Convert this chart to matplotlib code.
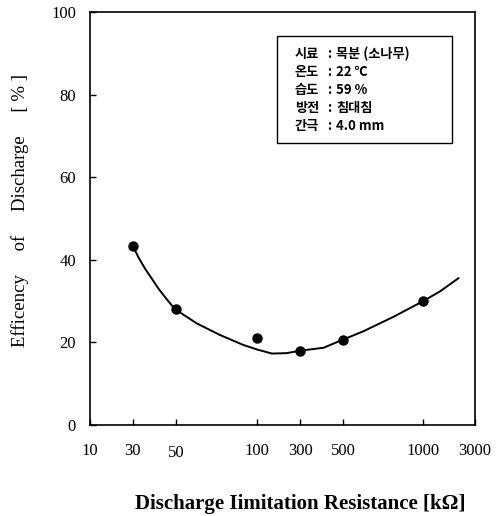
import matplotlib
matplotlib.use("Agg")
import matplotlib.pyplot as plt
from matplotlib.patches import Rectangle
from matplotlib.transforms import ScaledTranslation

plt.rcParams.update({
    "font.family": "serif",
    "font.serif": ["Liberation Serif", "DejaVu Serif"],
})

# x axis of the original is hand-drawn: labels are not on a true log scale
X_LABELS = ["10", "30", "50", "100", "300", "500", "1000", "3000"]
X_TICK_POS = [0, 1, 2, 3.9, 4.9, 5.9, 7.77, 8.97]

# measured points (resistance in kOhm -> efficiency %)
RESISTANCE = ["30", "50", "100", "300", "500", "1000"]
EFFICIENCY = [43.3, 28.0, 21.0, 17.9, 20.6, 30.0]

# fitted curve (axis position, efficiency %)
CURVE_POS = [1.0, 1.126, 1.282, 1.438, 1.592, 1.748, 1.904, 2.02, 2.49, 3.03,
             3.57, 3.89, 4.24, 4.58, 4.9, 5.44, 5.9, 6.37, 7.07, 7.77, 8.16, 8.59]
CURVE_EFF = [43.3, 40.6, 37.8, 35.4, 33.0, 30.9, 28.9, 27.7, 24.5, 21.7,
             19.3, 18.2, 17.2, 17.3, 17.9, 18.6, 20.6, 22.6, 26.1, 29.95, 32.3, 35.5]

Y_TICKS = [0, 20, 40, 60, 80, 100]

CONDITIONS = [
    ("시료", "목분 (소나무)"),
    ("온도", "22 ℃"),
    ("습도", "59 %"),
    ("방전", "침대침"),
    ("간극", "4.0 mm"),
]

fig = plt.figure(figsize=(5.01, 5.16), dpi=100)
ax = fig.add_axes([0.1796, 0.1773, 0.7684, 0.7994])

pos_of = dict(zip(X_LABELS, X_TICK_POS))
ax.plot(CURVE_POS, CURVE_EFF, color="black", lw=1.4,
        solid_capstyle="round", solid_joinstyle="round")
ax.plot([pos_of[r] for r in RESISTANCE], EFFICIENCY, "o", color="black", ms=6.5)

ax.set_xlim(X_TICK_POS[0], X_TICK_POS[-1])
ax.set_ylim(0, 100)
ax.set_xticks(X_TICK_POS)
ax.set_xticklabels(X_LABELS, fontsize=12)
ax.set_yticks(Y_TICKS)
ax.set_yticklabels([str(v) for v in Y_TICKS], fontsize=12)
ax.tick_params(direction="in", length=4, width=1)
ax.tick_params(axis="x", pad=13)
ax.tick_params(axis="y", pad=10)
for s in ax.spines.values():
    s.set_linewidth(1.2)

# the "50" label sits a bit lower in the original
lbl = ax.get_xticklabels()[2]
lbl.set_transform(lbl.get_transform() + ScaledTranslation(0, -2 / 72, fig.dpi_scale_trans))

fig.text(0.041, 0.593, "Efficency     of     Discharge     [ % ]", fontsize=13.5,
         rotation=90, ha="center", va="center")
fig.text(0.599, 0.023, "Discharge Iimitation Resistance [kΩ]", fontsize=15,
         fontweight="bold", ha="center", va="center")

# condition box
ax.add_patch(Rectangle((0.486, 0.683), 0.454, 0.259, transform=ax.transAxes,
                       fill=False, lw=1.0, ec="black"))
cjk = ["Noto Sans CJK KR", "DejaVu Sans"]
for k, (key, val) in enumerate(CONDITIONS):
    y = 0.898 - k * 0.0435
    ax.text(0.532, y, key, transform=ax.transAxes, family=cjk, fontsize=9.5,
            fontweight="heavy", va="center")
    ax.text(0.617, y, ":", transform=ax.transAxes, family=cjk, fontsize=9.5,
            fontweight="heavy", va="center")
    ax.text(0.640, y, val, transform=ax.transAxes, family=cjk, fontsize=9.5,
            fontweight="heavy", va="center")

fig.savefig("out.png", dpi=100)
